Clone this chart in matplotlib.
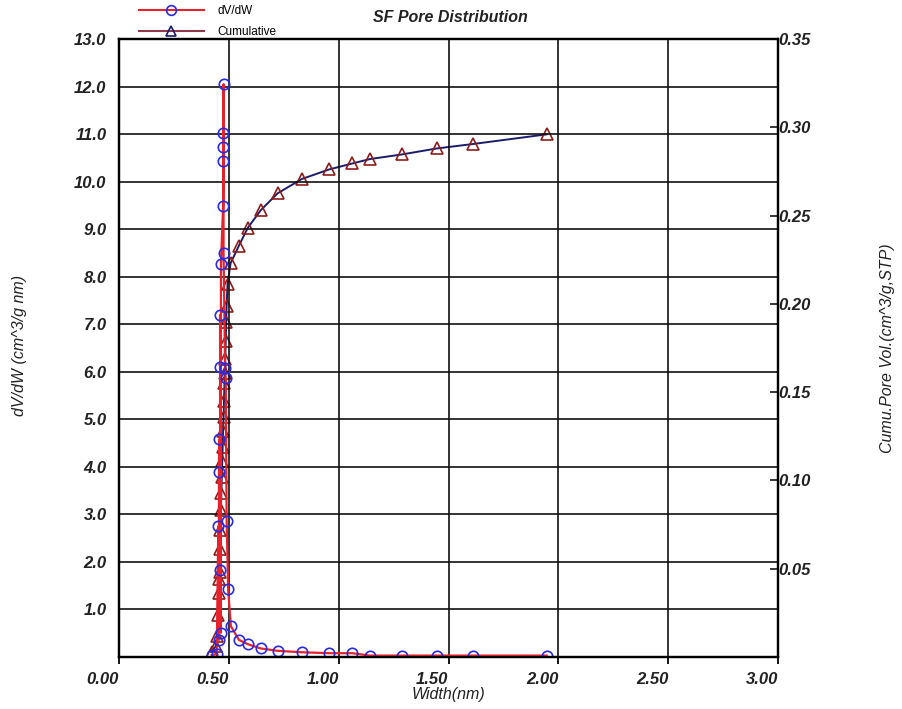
import matplotlib.pyplot as plt
from matplotlib.lines import Line2D
from matplotlib.ticker import FixedLocator, FormatStrFormatter

plt.rcParams['font.family'] = ['Liberation Sans', 'DejaVu Sans']

# dV/dW (left axis), width in nm
dvdw_width = [0.422, 0.445, 0.452, 0.455, 0.455, 0.456, 0.460, 0.460, 0.462, 0.464,
              0.464, 0.474, 0.475, 0.475, 0.475, 0.476, 0.476, 0.483, 0.486, 0.490,
              0.497, 0.509, 0.546, 0.586, 0.645, 0.722, 0.832, 0.956, 1.062, 1.142,
              1.287, 1.446, 1.610, 1.947]
dvdw_value = [0.04, 0.06, 2.75, 0.36, 3.90, 4.58, 1.83, 7.19, 6.11, 0.51,
              8.27, 9.49, 10.44, 10.72, 11.03, 12.05, 8.49, 6.08, 5.86, 2.87,
              1.42, 0.65, 0.36, 0.27, 0.18, 0.13, 0.10, 0.08, 0.08, 0.03,
              0.03, 0.03, 0.03, 0.03]

# cumulative pore volume (right axis)
cum_width = [0.422, 0.440, 0.448, 0.452, 0.455, 0.456, 0.458, 0.460, 0.462, 0.464,
             0.466, 0.468, 0.470, 0.472, 0.474, 0.476, 0.478, 0.480, 0.482, 0.484,
             0.486, 0.488, 0.490, 0.494, 0.508, 0.546, 0.586, 0.645, 0.722, 0.832,
             0.956, 1.062, 1.142, 1.287, 1.446, 1.610, 1.947]
cum_value = [0.003, 0.006, 0.012, 0.024, 0.036, 0.044, 0.048, 0.061, 0.072, 0.083,
             0.093, 0.102, 0.111, 0.119, 0.128, 0.136, 0.145, 0.155, 0.161, 0.169,
             0.179, 0.190, 0.199, 0.211, 0.223, 0.233, 0.243, 0.253, 0.2626, 0.2707,
             0.2761, 0.2795, 0.2820, 0.2846, 0.2880, 0.2905, 0.2960]

x_ticks = [0.0, 0.5, 1.0, 1.5, 2.0, 2.5, 3.0]
left_ticks = [1, 2, 3, 4, 5, 6, 7, 8, 9, 10, 11, 12, 13]
right_ticks = [0.05, 0.10, 0.15, 0.20, 0.25, 0.30, 0.35]

red = '#e8222c'
blue = '#2a2ae0'
navy = '#1c1c6a'
brick = '#8c1c1c'
txt = '#222222'

fig = plt.figure(figsize=(9.03, 7.09), dpi=100)
ax = fig.add_axes([119 / 903, 1 - 657 / 709, 659 / 903, 618 / 709])
ax2 = ax.twinx()

ax2.plot(cum_width, cum_value, color=navy, lw=1.4, marker='^', ms=8,
         mfc='none', mec=brick, mew=1.2)
ax.plot(dvdw_width, dvdw_value, color=red, lw=1.6, marker='o', ms=7.5,
        mfc='none', mec=blue, mew=1.2)
ax.set_zorder(ax2.get_zorder() + 1)
ax.patch.set_visible(False)

ax.set_xlim(0, 3)
ax.set_ylim(0, 13)
ax2.set_ylim(0, 0.35)

ax.xaxis.set_major_locator(FixedLocator(x_ticks))
ax.xaxis.set_major_formatter(FormatStrFormatter('%.2f'))
ax.yaxis.set_major_locator(FixedLocator(left_ticks))
ax.yaxis.set_major_formatter(FormatStrFormatter('%.1f'))
ax2.yaxis.set_major_locator(FixedLocator(right_ticks))
ax2.yaxis.set_major_formatter(FormatStrFormatter('%.2f'))

ax.grid(True, color='#111111', lw=1.2)
ax.set_axisbelow(True)

tick_font = dict(fontsize=12, fontstyle='italic', fontweight='bold', color=txt)
ax.tick_params(axis='x', direction='out', length=5, width=1.3, pad=6)
ax.tick_params(axis='y', length=0, pad=9)
ax2.tick_params(axis='y', direction='in', length=6, width=1.1, pad=0)
for lab in ax.get_xticklabels():
    lab.set(**tick_font, ha='right')
for lab in ax.get_yticklabels() + ax2.get_yticklabels():
    lab.set(**tick_font)

for sp in ax.spines.values():
    sp.set_linewidth(1.6)
for sp in ax2.spines.values():
    sp.set_linewidth(1.6)

ax.set_xlabel('Width(nm)', fontsize=11.5, fontstyle='italic', color=txt, labelpad=0)
fig.text(20 / 903, 1 - 345 / 709, 'dV/dW (cm^3/g nm)', rotation=90, fontsize=11.5,
         fontstyle='italic', color=txt, ha='center', va='center')
fig.text(888 / 903, 1 - 348 / 709, 'Cumu.Pore Vol.(cm^3/g,STP)', rotation=90,
         fontsize=11.5, fontstyle='italic', color=txt, ha='center', va='center')
fig.text(450 / 903, 1 - 17 / 709, 'SF Pore Distribution', fontsize=11.5,
         fontstyle='italic', fontweight='bold', color=txt, ha='center', va='center')

handles = [
    Line2D([], [], color=red, lw=1.5, marker='o', ms=7, mfc='none', mec=blue, mew=1.2),
    Line2D([], [], color='#8c3a4c', lw=1.5, marker='^', ms=7, mfc='none', mec=navy, mew=1.2),
]
fig.legend(handles, ['dV/dW', 'Cumulative'], loc='upper left',
           bbox_to_anchor=(128 / 903, 1.008), frameon=False, fontsize=8.5,
           handlelength=5.5, handletextpad=1.2, labelspacing=0.75)

fig.savefig('out.png', dpi=100)
